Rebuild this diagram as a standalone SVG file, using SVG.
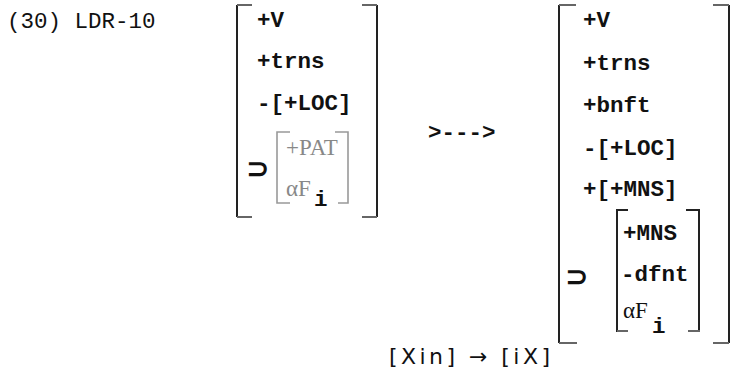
<svg xmlns="http://www.w3.org/2000/svg" width="731" height="371" viewBox="0 0 731 371">
<style>
.m{font-family:"Liberation Mono","Courier New",monospace;font-size:22.5px;fill:#111}
.b{font-weight:bold}
.s{font-family:"Liberation Serif","Times New Roman",serif;font-size:23px}
.g{fill:#888}
.sup{font-family:"DejaVu Sans",sans-serif;font-size:28px;font-weight:bold;fill:#111}
.br{fill:none;stroke:#222;stroke-width:2}
.tk{fill:none;stroke:#666;stroke-width:2}
.gb{fill:none;stroke:#999;stroke-width:1.6}
.sa{font-family:"DejaVu Sans",sans-serif;font-size:22px;fill:#111}
</style>
<rect width="731" height="371" fill="#fff"/>
<g id="title"><text class="m" x="7" y="28">(30) LDR-10</text></g>
<g id="left-matrix">
<path class="br" d="M237 5V217"/>
<path class="tk" d="M237 5H252M237 217H252"/>
<path class="br" d="M377 5V217"/>
<path class="tk" d="M362 5H377M362 217H377"/>
<text class="m b" x="257" y="27">+V</text>
<text class="m b" x="257" y="68">+trns</text>
<text class="m b" x="257" y="110">-[+LOC]</text>
<text class="sup" x="246" y="178">⊃</text>
<path class="gb" d="M290 132H277V203H290M335 132H348V203H338"/>
<text class="s g" x="286" y="155">+PAT</text>
<text class="s g" x="286" y="196">αF</text>
<text class="m b" x="314" y="206">i</text>
</g>
<g id="arrow"><text class="m b" x="428" y="139">&gt;---&gt;</text></g>
<g id="right-matrix">
<path class="br" d="M559 5V343"/>
<path class="tk" d="M559 5H576M559 343H577"/>
<path class="br" d="M729 5V343"/>
<path class="tk" d="M713 5H729M713 343H729"/>
<text class="m b" x="583" y="27">+V</text>
<text class="m b" x="583" y="70">+trns</text>
<text class="m b" x="583" y="112">+bnft</text>
<text class="m b" x="583" y="155">-[+LOC]</text>
<text class="m b" x="583" y="196">+[+MNS]</text>
<text class="sup" x="565" y="286">⊃</text>
<path class="br" d="M628 210H617V332"/>
<path class="br" d="M686 210H699V332"/>
<path class="tk" d="M617 331H628M688 331H700"/>
<text class="m b" x="623" y="240">+MNS</text>
<text class="m b" x="621" y="281">-dfnt</text>
<text class="s" x="623" y="318" fill="#111">αF</text>
<text class="m b" x="652" y="333">i</text>
</g>
<g id="transform"><text class="sa" x="389" y="364" textLength="161" lengthAdjust="spacing">[Xin] → [iX]</text></g>
</svg>
